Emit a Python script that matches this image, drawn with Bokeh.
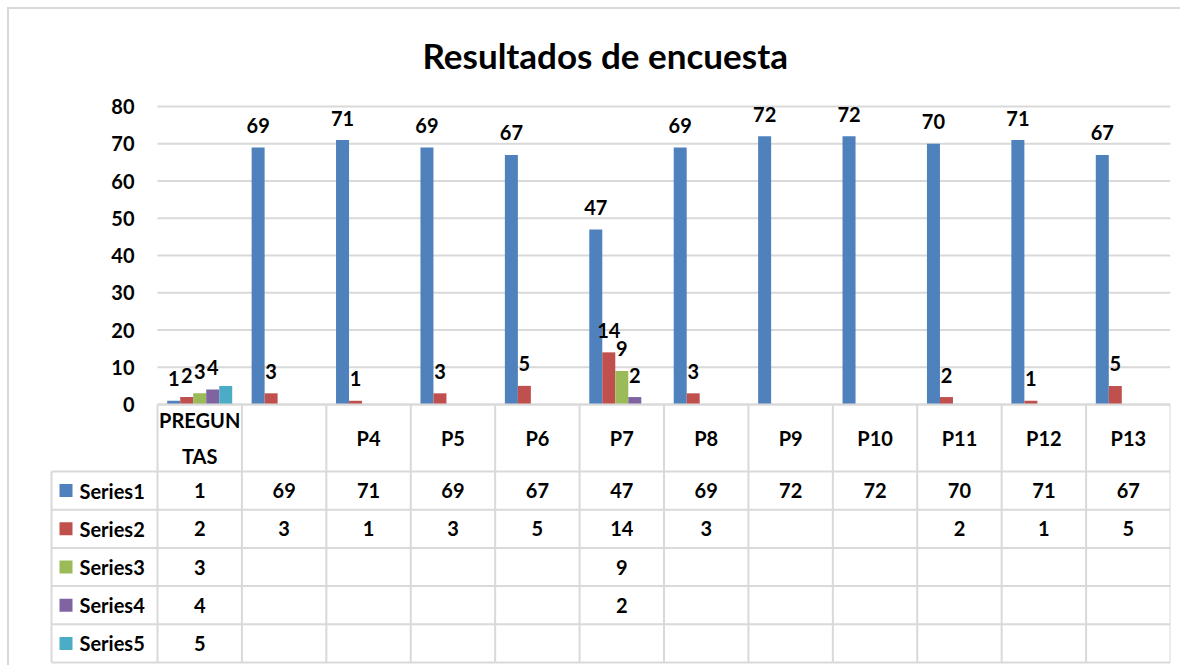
import numpy as np
from bokeh.plotting import figure
from bokeh.models import ColumnDataSource, Range1d, FixedTicker
from bokeh.layouts import column
from bokeh.transform import dodge
from bokeh.core.properties import value
from bokeh.embed import file_html
from bokeh.resources import INLINE

# ---------------- data ----------------
title_text = "Resultados de encuesta"
categories = ["PREGUNTAS", "", "P4", "P5", "P6", "P7", "P8", "P9", "P10", "P11", "P12", "P13"]
category_labels = ["PREGUN\nTAS", "", "P4", "P5", "P6", "P7", "P8", "P9", "P10", "P11", "P12", "P13"]
series_names = ["Series1", "Series2", "Series3", "Series4", "Series5"]
series1 = [1, 69, 71, 69, 67, 47, 69, 72, 72, 70, 71, 67]
series2 = [2, 3, 1, 3, 5, 14, 3, None, None, 2, 1, 5]
series3 = [3, None, None, None, None, 9, None, None, None, None, None, None]
series4 = [4, None, None, None, None, 2, None, None, None, None, None, None]
series5 = [5, None, None, None, None, None, None, None, None, None, None, None]
series_colors = ["#4F81BD", "#C0504D", "#9BBB59", "#8064A2", "#4BACC6"]
labelled_series = [True, True, True, True, False]
y_ticks = [0, 10, 20, 30, 40, 50, 60, 70, 80]

all_series = [series1, series2, series3, series4, series5]

# ---------------- layout constants ----------------
FONT = "Lato"
FS = "20px"
GRID = "#d9d9d9"
n = len(categories)
n_rows = len(series_names)
CAT_PX = 1013 / n              # pixels per category
PX_PER_Y = 298 / 80            # pixels per y unit
TOP_PAD = 20 / PX_PER_Y        # room above the 80 line
BW = 13 / CAT_PX               # bar width in category units
LEG_W = 106 / CAT_PX           # legend column width
LEFT_PAD = 2 / CAT_PX
HEADER_H = 67 / PX_PER_Y       # table header height in y units
ROW_H = 38.2 / PX_PER_Y        # table row height in y units
TABLE_BOTTOM = -(HEADER_H + n_rows * ROW_H)
BOTTOM_PAD = 3 / PX_PER_Y

x_start = -LEG_W - LEFT_PAD
y_start = TABLE_BOTTOM - BOTTOM_PAD
y_end = 80 + TOP_PAD
frame_w = int(round((n - x_start) * CAT_PX))
frame_h = int(round((y_end - y_start) * PX_PER_Y))

xc = np.arange(n) + 0.5

p = figure(frame_width=frame_w, frame_height=frame_h,
           min_border_left=40, min_border_right=10,
           min_border_top=77, min_border_bottom=0,
           x_range=Range1d(x_start, n), y_range=Range1d(y_start, y_end),
           x_axis_location=None,
           output_backend="svg", toolbar_location=None)
p.outline_line_color = None
p.grid.visible = False

# y axis placed at the category origin
p.yaxis.fixed_location = 0
p.yaxis.ticker = FixedTicker(ticks=y_ticks)
p.yaxis.axis_line_color = None
p.yaxis.major_tick_line_color = None
p.yaxis.minor_tick_line_color = None
p.yaxis.major_label_standoff = 17
p.yaxis.major_label_text_font = FONT
p.yaxis.major_label_text_font_size = FS
p.yaxis.major_label_text_font_style = "bold"
p.yaxis.major_label_text_color = "black"

# title
p.title.text = title_text
p.title.align = "left"
p.title.offset = 373
p.title.text_font = FONT
p.title.text_font_size = "35px"
p.title.text_font_style = "bold"
p.title.text_color = "black"
p.title.standoff = 21

# horizontal grid lines over the category area
p.segment(x0=[0] * len(y_ticks), x1=[n] * len(y_ticks), y0=y_ticks, y1=y_ticks,
          line_color=GRID, line_width=2)

# ---------------- bars + labels ----------------
for k, (vals, color) in enumerate(zip(all_series, series_colors)):
    idx = [i for i, v in enumerate(vals) if v is not None]
    src = ColumnDataSource(dict(x=xc[idx], top=[vals[i] for i in idx],
                                label=[str(vals[i]) for i in idx]))
    off = (k - 2) * BW
    p.vbar(x=dodge("x", off), top="top", width=BW, source=src,
           fill_color=color, line_color=None)
    if labelled_series[k]:
        p.text(x=dodge("x", off), y="top", text="label", source=src,
               text_align="center", text_baseline="alphabetic", y_offset=-22,
               text_font=value(FONT), text_font_size=FS, text_font_style="bold",
               text_color="black")

# ---------------- data table ----------------
hy = [0.0] + [-(HEADER_H + r * ROW_H) for r in range(n_rows + 1)]
hx0 = [0.0] + [-LEG_W] * (n_rows + 1)
p.segment(x0=hx0, x1=[n] * len(hy), y0=hy, y1=hy, line_color=GRID, line_width=2)
vx = [-LEG_W] + list(range(n + 1))
vy0 = [-HEADER_H] + [0.0] * (n + 1)
p.segment(x0=vx, x1=vx, y0=vy0, y1=[TABLE_BOTTOM] * len(vx),
          line_color=GRID, line_width=2)

p.text(x=xc, y=[-HEADER_H / 2] * n, text=category_labels,
       text_align="center", text_baseline="middle", text_line_height=1.5,
       text_font=value(FONT), text_font_size=FS, text_font_style="bold",
       text_color="black")

row_y = [-(HEADER_H + (r + 0.5) * ROW_H) for r in range(n_rows)]
p.scatter(x=[-LEG_W + 14.5 / CAT_PX] * n_rows, y=row_y, marker="square", size=13,
          fill_color=series_colors, line_color=None)
p.text(x=[-LEG_W + 28 / CAT_PX] * n_rows, y=row_y, text=series_names,
       text_align="left", text_baseline="middle",
       text_font=value(FONT), text_font_size=FS, text_font_style="bold",
       text_color="black")

cx, cy, ct = [], [], []
for r, vals in enumerate(all_series):
    for i, v in enumerate(vals):
        if v is not None:
            cx.append(xc[i]); cy.append(row_y[r]); ct.append(str(v))
p.text(x=cx, y=cy, text=ct, text_align="center", text_baseline="middle",
       text_font=value(FONT), text_font_size=FS, text_font_style="bold",
       text_color="black")

layout = column(p, styles={"border-top": "2px solid #d9d9d9",
                           "border-left": "2px solid #d9d9d9",
                           "margin-top": "7px", "margin-left": "7px"})

open("out.html", "w").write(file_html(layout, INLINE))
